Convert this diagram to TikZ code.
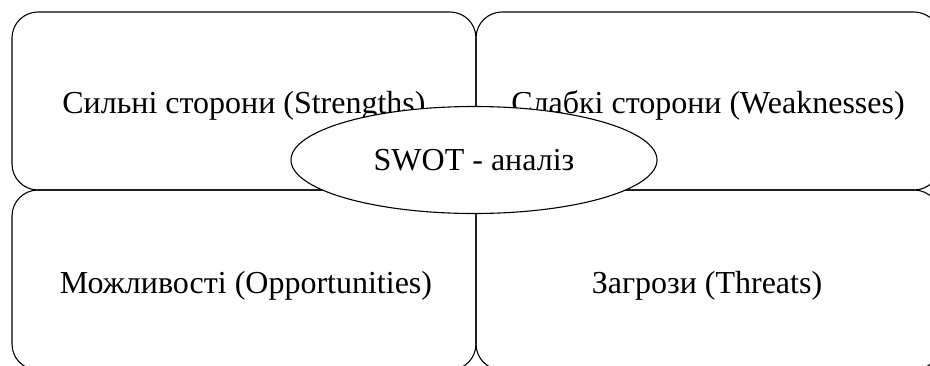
\documentclass[tikz,border=0pt]{standalone}
\usepackage{fontspec}
\setmainfont{Liberation Serif}
\usetikzlibrary{shapes.geometric}
\begin{document}
\begin{tikzpicture}[x=1pt,y=-1pt,
  quad/.style={draw=black, line width=1.1pt, rounded corners=26pt},
  quadtext/.style={font=\fontsize{32}{38}\selectfont, inner sep=0pt, anchor=base},
  hub/.style={ellipse, draw=black, fill=white, line width=1.1pt,
    minimum width=366pt, minimum height=107pt, inner sep=0pt,
    font=\fontsize{32}{38}\selectfont}]
  \useasboundingbox (0,0) rectangle (930,365);
  \clip (0,0) rectangle (930,365);
  % four quadrants
  \draw[quad] (12,12) rectangle (476,190);
  \draw[quad] (476,12) rectangle (940,190);
  \draw[quad] (12,190) rectangle (476,370);
  \draw[quad] (476,190) rectangle (940,370);
  % quadrant labels
  \node[quadtext] (s) at (244,113) {Сильні сторони (Strengths)};
  \node[quadtext] (w) at (708,113) {Слабкі сторони (Weaknesses)};
  \node[quadtext] (o) at (246,293) {Можливості (Opportunities)};
  \node[quadtext] (t) at (707,293) {Загрози (Threats)};
  % central ellipse
  \node[hub] (swot) at (474,160) {SWOT - аналіз};
\end{tikzpicture}
\end{document}
